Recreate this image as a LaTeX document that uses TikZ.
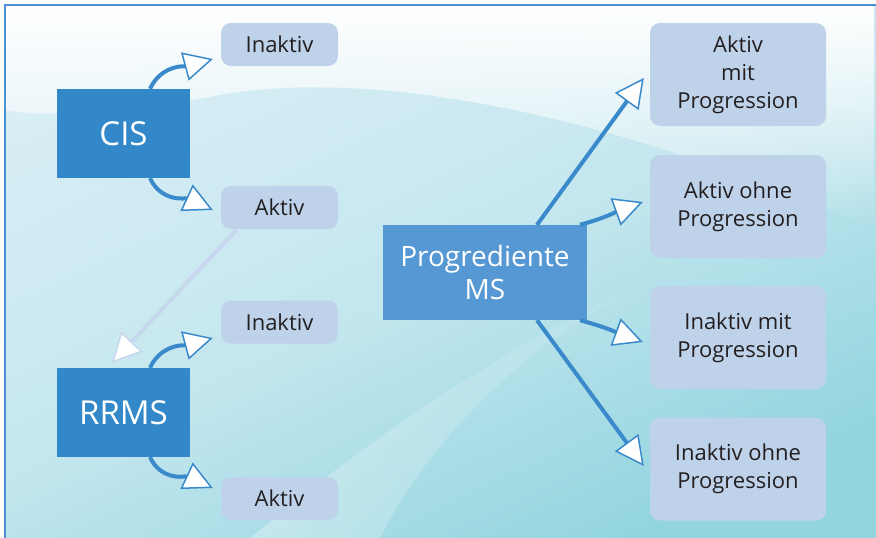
\documentclass[tikz,border=0pt]{standalone}
\usepackage{fontspec}
\setmainfont{Open Sans}
\usetikzlibrary{arrows.meta,positioning,fadings}

\definecolor{catblue}{HTML}{3288C8}
\definecolor{progblue}{HTML}{5598D3}
\definecolor{statefill}{HTML}{BED2EA}
\definecolor{linkblue}{HTML}{3A8ACB}
\definecolor{paleblue}{HTML}{C6D7EE}
\definecolor{txt}{HTML}{231F20}
\definecolor{bgcyan}{HTML}{D9EEF5}
\definecolor{bgteal}{HTML}{93D5DF}
\definecolor{framecol}{HTML}{4A90D0}

\begin{document}
\begin{tikzpicture}[x=1pt, y=1pt,
  cat/.style={fill=catblue, text=white, minimum width=133pt, minimum height=89pt,
              font=\fontsize{33}{38}\selectfont},
  progbox/.style={fill=progblue, text=white, align=center, minimum width=204pt,
              minimum height=95pt, font=\fontsize{28}{33}\selectfont},
  state/.style={fill=statefill, rounded corners=10pt, text=txt, minimum width=117pt,
              minimum height=43pt, font=\fontsize{22}{28}\selectfont},
  outcome/.style={state, align=center, minimum width=176pt, minimum height=103pt},
  link/.style={draw=linkblue, line width=4pt,
              -{Triangle[length=29pt, width=29pt, line width=1.5pt, fill=white]}},
  palelink/.style={link, draw=paleblue}
]
\useasboundingbox (0,0) rectangle (876,-538);

% background
\fill[white] (0,0) rectangle (876,-538);
\shade[top color=bgcyan, bottom color=bgteal, middle color=bgcyan!70!bgteal, shading angle=25]
  (5,-5) rectangle (876,-538);
\fill[white, path fading=south]
  (5,-5) -- (876,-5) -- (876,-230) .. controls (700,-150) and (420,-60) .. (220,-95)
  .. controls (120,-115) and (50,-118) .. (5,-110) -- cycle;
\fill[white, opacity=0.3, path fading=east]
  (250,-538) .. controls (380,-430) and (540,-320) .. (720,-250)
  .. controls (560,-310) and (440,-420) .. (380,-538) -- cycle;
\draw[framecol, line width=2pt] (5,-538) -- (5,-5) -- (876,-5);

% nodes
\node[cat] (cis) at (123.5,-133.5) {CIS};
\node[state] (inak1) at (279.5,-44.5) {Inaktiv};
\node[state] (akt1) at (279.5,-207.5) {Aktiv};
\node[cat] (rrms) at (123.5,-412.5) {RRMS};
\node[state] (inak2) at (279.5,-322) {Inaktiv};
\node[state] (akt2) at (279.5,-498.5) {Aktiv};

\node[progbox] (prog) at (485,-272.5) {Progrediente\\MS};
\node[outcome] (r1) at (738,-74.5) {Aktiv\\mit\\Progression};
\node[outcome] (r2) at (738,-206.5) {Aktiv ohne\\Progression};
\node[outcome] (r3) at (738,-337.5) {Inaktiv mit\\Progression};
\node[outcome] (r4) at (738,-469) {Inaktiv ohne\\Progression};

% arrows
\draw[link] ([xshift=26.5pt]cis.north) to[out=65,in=195] ([xshift=-8pt,yshift=-14.5pt]inak1.west);
\draw[link] ([xshift=26.5pt]cis.south) to[out=-65,in=155] ([xshift=-8pt,yshift=-2.5pt]akt1.west);
\draw[palelink] ([xshift=-42.5pt]akt1.south) -- ([xshift=-11.5pt,yshift=5pt]rrms.north);
\draw[link] ([xshift=26.5pt]rrms.north) to[out=65,in=195] ([xshift=-8pt,yshift=-16pt]inak2.west);
\draw[link] ([xshift=26.5pt]rrms.south) to[out=-65,in=155] ([xshift=-8pt,yshift=10.5pt]akt2.west);

\draw[link] ([xshift=52pt]prog.north) -- ([xshift=-6pt,yshift=-3.5pt]r1.west);
\draw[link] ([xshift=95pt]prog.north) to[out=15,in=200] ([xshift=-7pt,yshift=4.5pt]r2.west);
\draw[link] ([xshift=95pt]prog.south) to[out=-15,in=160] ([xshift=-7pt,yshift=-4.5pt]r3.west);
\draw[link] ([xshift=52pt]prog.south) -- ([xshift=-6pt,yshift=3pt]r4.west);
\end{tikzpicture}
\end{document}
